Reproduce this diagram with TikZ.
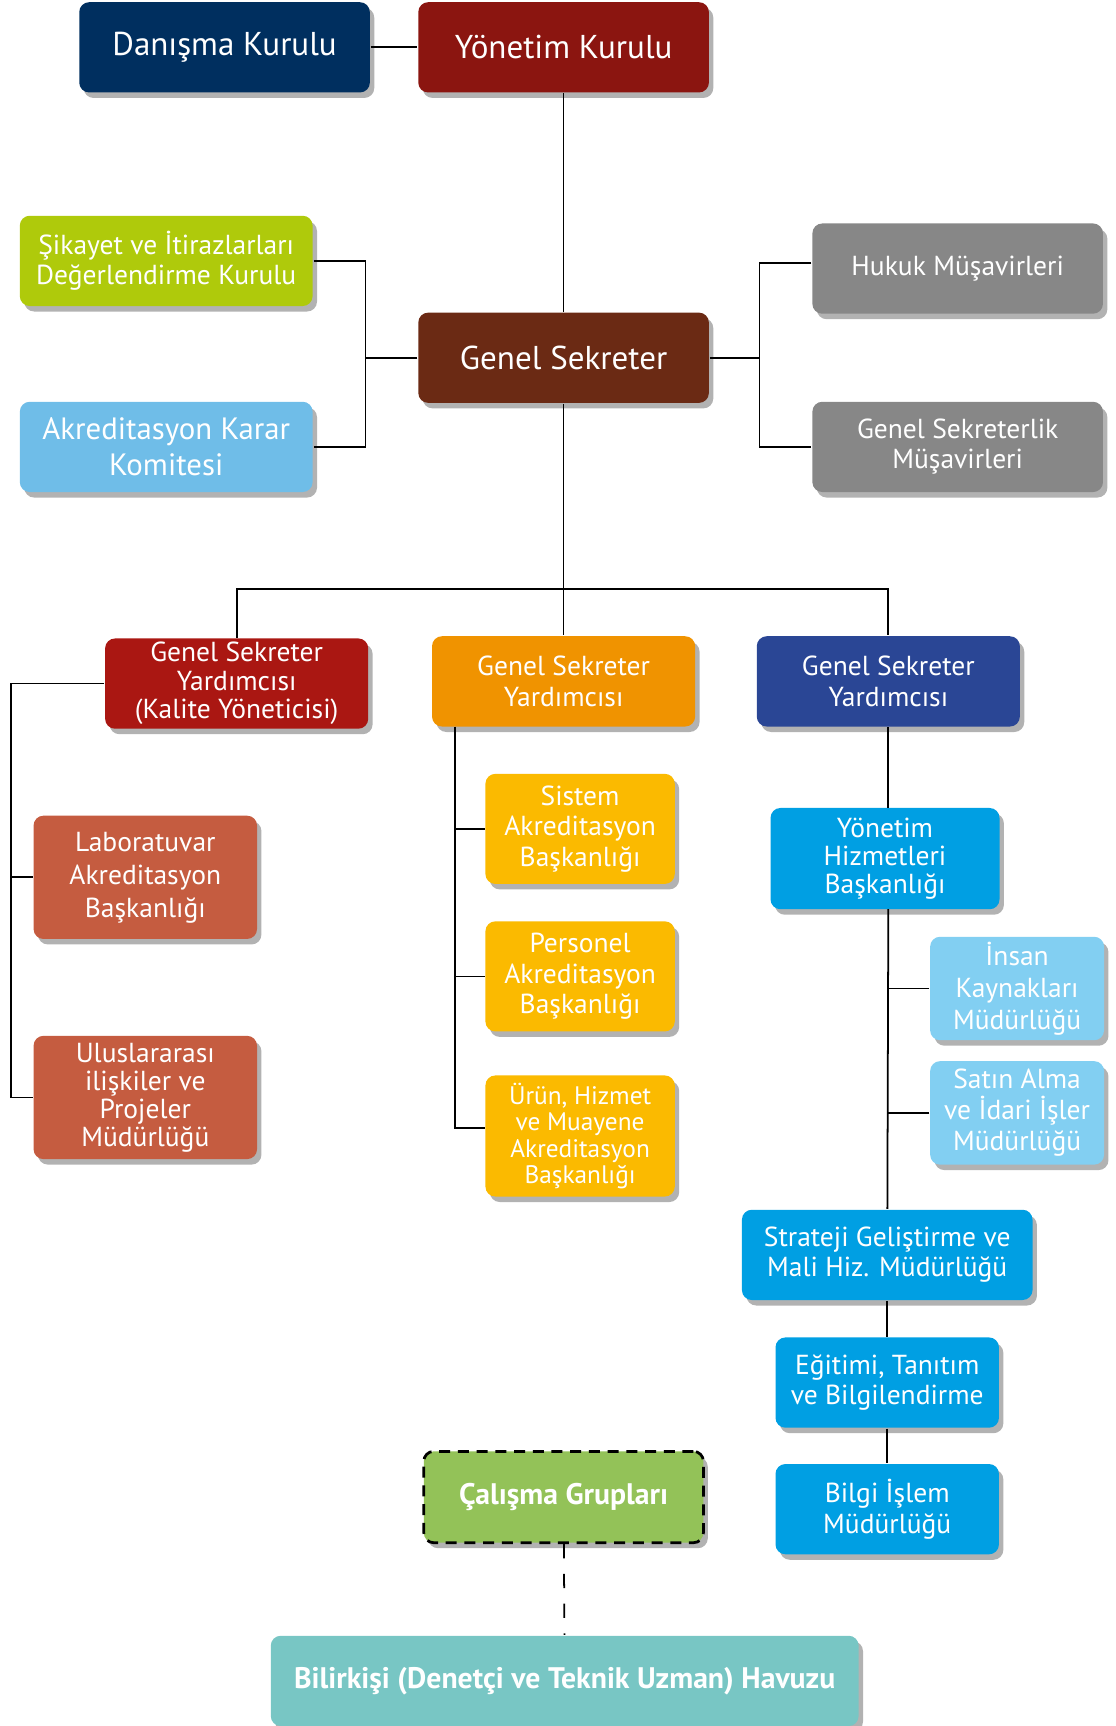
\documentclass[tikz,border=0pt]{standalone}
\usepackage{fontspec}
\setmainfont{PT Sans}
\usetikzlibrary{shadows}

\definecolor{danblue}{HTML}{002F5F}
\definecolor{yonred}{HTML}{8B1510}
\definecolor{sklime}{HTML}{AFCA0B}
\definecolor{akkblue}{HTML}{6FBDE8}
\definecolor{gsbrown}{HTML}{6B2A14}
\definecolor{musgray}{HTML}{878787}
\definecolor{gsyred}{HTML}{AA1712}
\definecolor{gsyorange}{HTML}{F09300}
\definecolor{gsyblue}{HTML}{2A4695}
\definecolor{labred}{HTML}{C55C40}
\definecolor{baskyellow}{HTML}{FBBA00}
\definecolor{mudblue}{HTML}{009FE3}
\definecolor{mudlight}{HTML}{82CFF2}
\definecolor{calgreen}{HTML}{93C258}
\definecolor{bilteal}{HTML}{78C6C4}

\newcommand{\titlefont}{\fontsize{30}{34}\selectfont}
\newcommand{\unitfont}{\fontsize{25}{27.5}\selectfont}

\begin{document}
\begin{tikzpicture}[x=1pt, y=-1pt, line width=1.6pt,
    box/.style={rounded corners=9pt, text=white, align=center, inner sep=2pt, font=\unitfont,
        drop shadow={shadow xshift=4pt, shadow yshift=-5pt, fill=black!30, opacity=1}},
    wide/.style={box, minimum width=264pt, minimum height=82pt},
    gsy/.style={box, minimum width=239pt, minimum height=82pt},
    bask/.style={box, fill=baskyellow, minimum width=172pt, minimum height=100pt},
    mud/.style={box, fill=mudblue, minimum width=203pt, minimum height=82pt},
    submud/.style={box, fill=mudlight, minimum width=158pt, minimum height=94pt}]
    \useasboundingbox (0,0) rectangle (1013,1568);

    \node[wide, fill=danblue, font=\titlefont] (dan) at (204, 43) {Danışma Kurulu};
    \node[wide, fill=yonred, font=\titlefont] (yon) at (512, 43) {Yönetim Kurulu};
    \node[wide, fill=gsbrown, font=\titlefont] (gs) at (512, 325) {Genel Sekreter};
    \node[wide, fill=sklime, minimum width=266pt] (sik) at (151, 237) {Şikayet ve İtirazlarları\\Değerlendirme Kurulu};
    \node[wide, fill=akkblue, minimum width=266pt, font=\fontsize{28}{33}\selectfont] (akk) at (151, 406) {Akreditasyon Karar\\Komitesi};
    \node[wide, fill=musgray] (huk) at (870, 244) {Hukuk Müşavirleri};
    \node[wide, fill=musgray] (gsm) at (870, 406) {Genel Sekreterlik\\Müşavirleri};

    \node[gsy, fill=gsyred, font=\fontsize{25}{26}\selectfont] (gsy1) at (215, 621) {Genel Sekreter\\Yardımcısı\\(Kalite Yöneticisi)};
    \node[gsy, fill=gsyorange] (gsy2) at (512, 619) {Genel Sekreter\\Yardımcısı};
    \node[gsy, fill=gsyblue] (gsy3) at (807, 619) {Genel Sekreter\\Yardımcısı};

    \node[box, fill=labred, minimum width=203pt, minimum height=112pt, font=\fontsize{25}{30}\selectfont] (lab) at (132, 797) {Laboratuvar\\Akreditasyon\\Başkanlığı};
    \node[box, fill=labred, minimum width=203pt, minimum height=112pt, font=\fontsize{25}{25.5}\selectfont] (ulu) at (132, 997) {Uluslararası\\ilişkiler ve\\Projeler\\Müdürlüğü};

    \node[bask] (sis) at (527, 753) {Sistem\\Akreditasyon\\Başkanlığı};
    \node[bask] (per) at (527, 887) {Personel\\Akreditasyon\\Başkanlığı};
    \node[bask, minimum height=110pt, font=\fontsize{23}{24}\selectfont] (uru) at (527, 1032) {Ürün, Hizmet\\ve Muayene\\Akreditasyon\\Başkanlığı};

    \node[mud, minimum width=208pt, minimum height=92pt, font=\fontsize{25}{25.5}\selectfont] (yhb) at (804, 780) {Yönetim\\Hizmetleri\\Başkanlığı};
    \node[submud, font=\fontsize{25}{29}\selectfont] (ins) at (924, 898) {İnsan\\Kaynakları\\Müdürlüğü};
    \node[submud, font=\fontsize{25}{28}\selectfont] (sat) at (924, 1011) {Satın Alma\\ve İdari İşler\\Müdürlüğü};
    \node[mud, minimum width=264pt] (str) at (806, 1140) {Strateji Geliştirme ve\\Mali Hiz. Müdürlüğü};
    \node[mud] (egi) at (806, 1256) {Eğitimi, Tanıtım\\ve Bilgilendirme};
    \node[mud] (bil) at (806, 1371) {Bilgi İşlem\\Müdürlüğü};

    \node[box, fill=calgreen, draw=black, line width=2.5pt, dash pattern=on 10pt off 7pt,
        minimum width=254pt, minimum height=83pt, font=\fontsize{27}{30}\selectfont\bfseries] (cal) at (512, 1360) {Çalışma Grupları};
    \node[box, fill=bilteal, minimum width=534pt, minimum height=82pt, font=\fontsize{27}{30}\selectfont\bfseries] (bhv) at (513, 1527) {Bilirkişi (Denetçi ve Teknik Uzman) Havuzu};

    % top level
    \draw (dan) -- (yon);
    \draw (yon) -- (gs);
    \draw (sik.east) -- (332, 237) |- (akk.east);
    \draw (gs.west) -- (332, 325);
    \draw ([yshift=5pt]huk.west) -- (690, 239) |- (gsm.west);
    \draw (gs.east) -- (690, 325);

    % assistants
    \draw (gs) -- (gsy2);
    \draw (gsy1.north) -- (215, 535) -- (807, 535) -- (gsy3.north);

    % left branch
    \draw (gsy1.west) -- (10, 621) |- (ulu.west);
    \draw (lab.west) -- (10, 797);

    % middle branch
    \draw (413, 660) |- ([yshift=7pt]uru.west);
    \draw (sis.west) -- (413, 753);
    \draw (per.west) -- (413, 887);

    % right branch
    \draw (gsy3) -- (807, 734);
    \draw (807, 826) -- (str);
    \draw (str) -- (egi);
    \draw (egi) -- (bil);
    \draw (ins.west) -- (807, 898);
    \draw (sat.west) -- (807, 1011);

    \draw[dash pattern=on 13pt off 14pt] (cal) -- (bhv);
\end{tikzpicture}
\end{document}
